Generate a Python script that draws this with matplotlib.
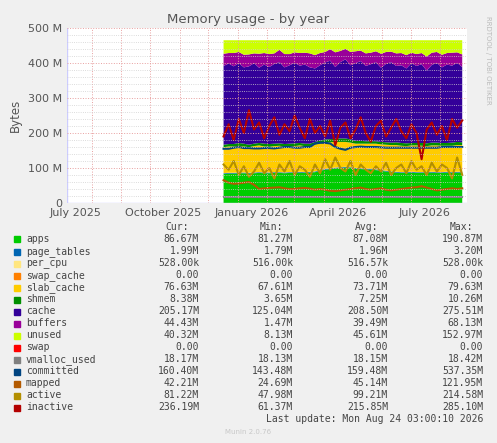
import numpy as np
import matplotlib
matplotlib.use("Agg")
import matplotlib.pyplot as plt
import matplotlib.dates as mdates
from datetime import datetime

# Values in M (megabytes), roughly every 5 days
apps = [83,84,84,85,85,84,85,86,85,85,86,86,85,86,86,87,86,87,88,92,95,97,99,100,
        101,100,98,97,96,95,94,92,90,88,87,86,86,87,86,86,86,87,86,86,87,86,87,87]
page_tables = [2.0] * 48
per_cpu = [0.5] * 48
swap_cache = [0.0] * 48
slab_cache = [74,75,75,76,74,73,75,76,74,73,74,75,74,73,74,75,74,73,76,76,75,74,73,72,
              71,70,69,70,71,72,73,73,74,75,76,75,74,75,76,75,74,75,76,75,74,75,76,76]
shmem = [7,7,7,8,8,7,7,7,8,8,7,7,7,8,8,7,7,7,8,8,9,9,9,10,
         10,9,8,8,7,7,7,7,7,7,8,8,8,7,7,8,8,8,8,8,8,9,9,8]
cache = [225,230,222,228,218,224,230,215,226,220,228,232,219,224,230,221,226,218,210,215,220,224,205,218,
         226,212,222,228,215,220,226,212,224,230,218,222,214,228,220,225,208,222,228,216,224,220,226,215]
buffers = [35,30,38,32,36,34,28,40,33,37,30,35,38,32,30,36,34,40,38,35,30,33,42,32,
           30,38,34,30,36,33,31,40,34,30,36,35,38,30,34,32,40,35,31,36,33,37,30,36]
mem_total = 465  # unused fills up to total RAM

swap = [0.0] * 48
vmalloc_used = [18.2] * 48
committed = [155,155,158,160,157,157,156,156,157,157,156,158,160,160,158,158,160,160,170,172,172,170,160,155,
             152,158,160,161,160,160,160,159,158,158,158,158,158,158,158,158,158,158,158,160,160,160,160,160]
mapped = [65,58,55,56,58,60,52,40,42,43,44,45,42,40,40,42,43,41,38,40,38,35,34,36,
          38,40,42,44,40,38,40,42,38,36,38,40,42,44,45,48,44,40,36,38,40,42,40,42]
active = [110,95,120,80,105,75,90,115,85,100,70,110,90,120,80,105,95,75,110,85,125,95,130,100,
          90,120,80,110,95,85,105,90,115,80,100,110,85,120,95,105,80,115,90,110,100,70,130,80]
inactive = [190,225,180,240,200,265,210,230,185,220,245,195,225,205,250,215,185,240,200,220,190,235,165,215,
            230,185,210,245,200,175,220,235,190,215,240,205,185,225,200,125,210,230,195,220,180,240,215,236]

legend_rows = [
    ("apps", "#00CC00", "86.67M", "81.27M", "87.08M", "190.87M"),
    ("page_tables", "#0066B3", "1.99M", "1.79M", "1.96M", "3.20M"),
    ("per_cpu", "#FFE680", "528.00k", "516.00k", "516.57k", "528.00k"),
    ("swap_cache", "#FF8000", "0.00", "0.00", "0.00", "0.00"),
    ("slab_cache", "#FFCC00", "76.63M", "67.61M", "73.71M", "79.63M"),
    ("shmem", "#008F00", "8.38M", "3.65M", "7.25M", "10.26M"),
    ("cache", "#330099", "205.17M", "125.04M", "208.50M", "275.51M"),
    ("buffers", "#990099", "44.43M", "1.47M", "39.49M", "68.13M"),
    ("unused", "#CCFF00", "40.32M", "8.13M", "45.61M", "152.97M"),
    ("swap", "#FF0000", "0.00", "0.00", "0.00", "0.00"),
    ("vmalloc_used", "#808080", "18.17M", "18.13M", "18.15M", "18.42M"),
    ("committed", "#004480", "160.40M", "143.48M", "159.48M", "537.35M"),
    ("mapped", "#B35A00", "42.21M", "24.69M", "45.14M", "121.95M"),
    ("active", "#B38F00", "81.22M", "47.98M", "99.21M", "214.58M"),
    ("inactive", "#B30000", "236.19M", "61.37M", "215.85M", "285.10M"),
]
colors = {r[0]: r[1] for r in legend_rows}

x = np.linspace(mdates.date2num(datetime(2025, 12, 17)), mdates.date2num(datetime(2026, 8, 24)), len(apps))
stack = [apps, page_tables, per_cpu, swap_cache, slab_cache, shmem, cache, buffers]
names = ["apps", "page_tables", "per_cpu", "swap_cache", "slab_cache", "shmem", "cache", "buffers"]
unused = mem_total - np.sum(stack, axis=0)

fig = plt.figure(figsize=(4.97, 4.43), dpi=100, facecolor="#F0F0F0")
ax = fig.add_axes([67 / 497, 1 - 203 / 443, 400 / 497, 175 / 443])
ax.set_facecolor("white")

ax.stackplot(x, *stack, unused, colors=[colors[n] for n in names] + [colors["unused"]], linewidth=0)
ax.plot(x, vmalloc_used, color=colors["vmalloc_used"], lw=1.5)
ax.plot(x, mapped, color=colors["mapped"], lw=1.5)
ax.plot(x, active, color=colors["active"], lw=1.5)
ax.plot(x, committed, color=colors["committed"], lw=1.5)
ax.plot(x, inactive, color=colors["inactive"], lw=1.5)

ax.set_xlim(mdates.date2num(datetime(2025, 7, 6)), mdates.date2num(datetime(2026, 8, 29)))
ax.set_ylim(0, 500)
ax.set_yticks([0, 100, 200, 300, 400, 500])
ax.set_yticklabels(["0", "100 M", "200 M", "300 M", "400 M", "500 M"])
ax.set_yticks(np.arange(0, 501, 20), minor=True)
ax.xaxis.set_major_locator(mdates.MonthLocator(bymonth=[1, 4, 7, 10], bymonthday=15))
ax.xaxis.set_major_formatter(mdates.DateFormatter("%B %Y"))
ax.xaxis.set_minor_locator(mdates.MonthLocator())
ax.tick_params(labelsize=8, colors="#555555", length=0, which="both")
ax.grid(True, which="minor", axis="y", color="#D0D0D0", ls=":", lw=0.6)
ax.grid(True, which="minor", axis="x", color="#E8A0A0", ls=":", lw=0.7)
ax.grid(True, which="major", axis="y", color="#E8A0A0", ls=":", lw=0.7)
for s in ax.spines.values():
    s.set_visible(False)
ax.axhline(0, color="#CCCCFF", lw=1)
ax.axvline(ax.get_xlim()[0], color="#CCCCFF", lw=1)
ax.set_axisbelow(False)
ax.set_ylabel("Bytes", fontsize=8.5, color="#555555")

fig.text(0.5, 1 - 19 / 443, "Memory usage - by year", ha="center", va="center", fontsize=9.5, color="#555555")
fig.text(488 / 497, 1 - 60 / 443, "RRDTOOL / TOBI OETIKER", rotation=270, ha="center", va="center",
         fontsize=5, color="#BBBBBB")

mono = "DejaVu Sans Mono"
cols = [199, 293, 388, 483]
for cx, h in zip(cols, ["Cur:", "Min:", "Avg:", "Max:"]):
    fig.text((cx - 10) / 497, 1 - 227 / 443, h, ha="right", va="center", family=mono, fontsize=7, color="#444444")
for i, (name, c, *vals) in enumerate(legend_rows):
    y = 1 - (239.5 + 12 * i) / 443
    fig.patches.append(plt.Rectangle((14 / 497, y - 3 / 443), 6 / 497, 6 / 443,
                                     transform=fig.transFigure, color=c))
    fig.text(26 / 497, y, name, va="center", family=mono, fontsize=7, color="#444444")
    for cx, v in zip(cols, vals):
        fig.text(cx / 497, y, v, ha="right", va="center", family=mono, fontsize=7, color="#444444")
fig.text(483 / 497, 1 - 419.5 / 443, "Last update: Mon Aug 24 03:00:10 2026", ha="right", va="center",
         family=mono, fontsize=7, color="#444444")
fig.text(248 / 497, 1 - 432 / 443, "Munin 2.0.76", ha="center", va="center", fontsize=5, color="#C8C8C8")

fig.savefig("out.png", dpi=100, facecolor=fig.get_facecolor())
